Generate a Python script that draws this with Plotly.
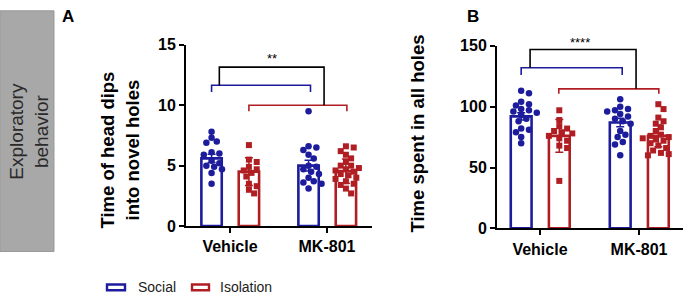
import plotly.graph_objects as go

# ---------------- data ----------------
categories = ["Vehicle", "MK-801"]
series_names = ["Social", "Isolation"]

# Panel A: Time of head dips into novel holes
a_mean_social = [5.6, 5.0]
a_sem_social = [0.35, 0.45]
a_mean_iso = [4.5, 4.55]
a_sem_iso = [1.15, 1.0]
a_pts_social_vehicle = [7.8, 7.3, 7.0, 6.9, 6.1, 6.0, 5.9, 5.4, 5.2, 5.0, 4.9, 4.7, 4.4, 3.5]
a_pts_iso_vehicle = [6.7, 5.5, 5.3, 4.9, 4.7, 4.6, 4.4, 4.1, 3.5, 3.3, 3.0, 2.7]
a_pts_social_mk = [9.5, 6.6, 6.5, 6.3, 5.9, 5.6, 5.0, 4.9, 4.7, 4.5, 4.3, 4.0, 3.7, 3.6, 3.5, 3.1]
a_pts_iso_mk = [6.6, 6.5, 6.2, 5.9, 5.6, 5.3, 5.0, 5.0, 4.8, 4.7, 4.6, 4.5, 4.3, 4.2,
                4.0, 3.9, 3.7, 3.5, 3.4, 3.1, 2.7]

# Panel B: Time spent in all holes
b_mean_social = [92, 87]
b_sem_social = [3.0, 3.5]
b_mean_iso = [76, 76]
b_sem_iso = [13.5, 9.0]
b_pts_social_vehicle = [113, 111, 104, 102, 101, 98, 97, 96, 95, 93, 90, 88, 82, 81, 79, 75, 70]
b_pts_iso_vehicle = [97, 89, 84, 82, 80, 79, 78, 76, 74, 72, 68, 66, 39]
b_pts_social_mk = [106, 100, 98, 97, 96, 94, 92, 90, 88, 86, 80, 77, 75, 71, 69, 60]
b_pts_iso_mk = [102, 98, 91, 88, 86, 83, 80, 77, 76, 75, 74, 73, 72, 70, 68, 66, 64, 62, 61, 60]

a_ticks = [0, 5, 10, 15]
b_ticks = [0, 50, 100, 150]
a_sig = "**"
b_sig = "****"

# ---------------- style ----------------
BLUE = "#1c1c9c"
RED = "#b01e23"
FONT = "Arial, Liberation Sans, sans-serif"
W, H = 685, 303
OFF_SOCIAL, OFF_ISO = -0.19, 0.195
BAR_W = 0.21


def px(x):
    return x / W


def py(y):
    return 1 - y / H


def swarm(vals, sx, sy, diam=6.2, step=2.6):
    """deterministic beeswarm offsets (in x data units)"""
    order = sorted(range(len(vals)), key=lambda i: -vals[i])
    placed = []
    offs = [0.0] * len(vals)
    for i in order:
        yp = vals[i] * sy
        k = 0
        while True:
            cand = [0] if k == 0 else [k * step, -k * step]
            ok_pos = None
            for c in cand:
                if all((c - ox) ** 2 + (yp - oy) ** 2 >= diam ** 2 for ox, oy in placed):
                    ok_pos = c
                    break
            if ok_pos is not None:
                placed.append((ok_pos, yp))
                offs[i] = ok_pos / sx
                break
            k += 1
    return offs


fig = go.Figure()

panels = [
    dict(xa="x", ya="y", sx=97.0, sy=12.8,
         means=(a_mean_social, a_mean_iso), sems=(a_sem_social, a_sem_iso),
         pts=((a_pts_social_vehicle, a_pts_social_mk), (a_pts_iso_vehicle, a_pts_iso_mk))),
    dict(xa="x2", ya="y2", sx=99.0, sy=1.29,
         means=(b_mean_social, b_mean_iso), sems=(b_sem_social, b_sem_iso),
         pts=((b_pts_social_vehicle, b_pts_social_mk), (b_pts_iso_vehicle, b_pts_iso_mk))),
]

for p in panels:
    for s, (off, col, sym) in enumerate([(OFF_SOCIAL, BLUE, "circle"), (OFF_ISO, RED, "square")]):
        xs = [i + off for i in range(len(categories))]
        fig.add_trace(go.Bar(
            x=xs, y=p["means"][s], width=BAR_W, xaxis=p["xa"], yaxis=p["ya"],
            marker=dict(color="white", line=dict(color=col, width=2.6)),
            error_y=dict(type="data", array=p["sems"][s], color=col, thickness=1.5, width=4),
            showlegend=False, hoverinfo="skip"))
    for s, (off, col, sym) in enumerate([(OFF_SOCIAL, BLUE, "circle"), (OFF_ISO, RED, "square")]):
        for i in range(len(categories)):
            vals = p["pts"][s][i]
            offs = swarm(vals, p["sx"], p["sy"])
            fig.add_trace(go.Scatter(
                x=[i + off + o for o in offs], y=vals, mode="markers",
                xaxis=p["xa"], yaxis=p["ya"],
                marker=dict(symbol=sym, size=6.5 if sym == "circle" else 6, color=col,
                            line=dict(width=0)),
                showlegend=False, hoverinfo="skip", cliponaxis=False))

axis_common = dict(showline=True, linecolor="black", linewidth=2, ticks="outside",
                   ticklen=5, tickwidth=2, tickcolor="black", showgrid=False, zeroline=False,
                   tickfont=dict(family=FONT, size=16, color="black", weight="bold"))

fig.update_layout(
    width=W, height=H, margin=dict(l=0, r=0, t=0, b=0),
    paper_bgcolor="white", plot_bgcolor="white", barmode="overlay",
    showlegend=False,
    xaxis=dict(domain=[px(186), px(372)], range=[-0.4536, 1.464], anchor="y",
               tickvals=[0, 1], ticktext=categories, **axis_common),
    yaxis=dict(domain=[py(231), py(39)], range=[0, 15], anchor="x",
               tickvals=a_ticks, **axis_common),
    xaxis2=dict(domain=[px(497), px(683)], range=[-0.434, 1.444], anchor="y2",
                tickvals=[0, 1], ticktext=categories, **axis_common),
    yaxis2=dict(domain=[py(233.5), py(40)], range=[0, 150], anchor="x2",
                tickvals=b_ticks, **axis_common),
)

shapes = []
# grey side box
shapes.append(dict(type="rect", xref="paper", yref="paper", x0=0, x1=px(54),
                   y0=py(258), y1=py(3), fillcolor="#a8a8a8", line=dict(color="#999999", width=1),
                   layer="below"))


def bracket(xr, yr, x0, x1, ytop, yl, yr_, col):
    shapes.append(dict(type="path", xref=xr, yref=yr,
                       path=f"M {x0},{yl} L {x0},{ytop} L {x1},{ytop} L {x1},{yr_}",
                       line=dict(color=col, width=1.6)))


# panel A brackets
bracket("x", "y", -0.19, 0.83, 11.65, 11.1, 11.1, BLUE)
bracket("x", "y", 0.195, 1.205, 10.0, 9.5, 9.5, RED)
bracket("x", "y", -0.11, 0.97, 13.15, 11.65, 10.0, "black")
# panel B brackets
bracket("x2", "y2", -0.19, 0.83, 132, 126, 126, BLUE)
bracket("x2", "y2", 0.19, 1.20, 114.6, 110.5, 110.5, RED)
bracket("x2", "y2", -0.10, 0.97, 146.9, 132, 114.6, "black")

# legend boxes
shapes.append(dict(type="rect", xref="paper", yref="paper", x0=px(107), x1=px(125),
                   y0=py(299), y1=py(293), fillcolor="white", line=dict(color=BLUE, width=2.4)))
shapes.append(dict(type="rect", xref="paper", yref="paper", x0=px(192), x1=px(209),
                   y0=py(299), y1=py(293), fillcolor="white", line=dict(color=RED, width=2.4)))
fig.update_layout(shapes=shapes)


def note(text, x, y, size, weight="normal", color="black", angle=0, xanchor="center"):
    return dict(text=text, xref="paper", yref="paper", x=px(x), y=py(y), textangle=angle,
                showarrow=False, xanchor=xanchor, yanchor="middle",
                font=dict(family=FONT, size=size, color=color, weight=weight))


ann = [
    note("Exploratory<br>behavior", 29, 131, 19, color="#2a2a2a", angle=-90),
    note("A", 68, 9, 17, "bold"),
    note("B", 473, 9, 17, "bold"),
    note("Time of head dips<br>into novel holes", 120, 151, 18.5, "bold", angle=-90),
    note("Time spent in all holes", 418, 133, 18.5, "bold", angle=-90),
    note(a_sig, 272, 54, 13),
    note(b_sig, 580, 37, 13),
    note(series_names[0], 136, 296, 14, color="#222", xanchor="left"),
    note(series_names[1], 218, 296, 14, color="#222", xanchor="left"),
]
fig.update_layout(annotations=ann)

fig.write_html("out.html", config={"displayModeBar": False},
               post_script="document.body.style.margin='0px';document.body.style.padding='0px';")
